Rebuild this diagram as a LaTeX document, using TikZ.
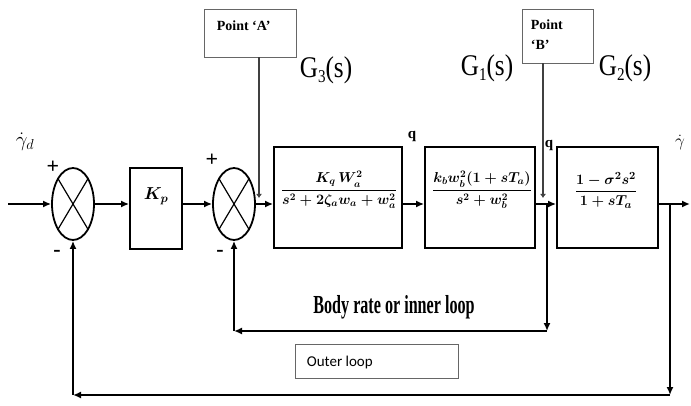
\documentclass[tikz,border=0pt]{standalone}
\usepackage{fontspec}
\setmainfont{Liberation Serif}
\newfontfamily\carl{Carlito}
\usepackage{graphicx}
\usetikzlibrary{shapes.geometric,arrows.meta}
\newcommand\Glabel[1]{\scalebox{0.84}[1]{\fontsize{30}{30}\selectfont G\raisebox{-5pt}{\fontsize{18}{18}\selectfont #1}(s)}}
\begin{document}
\begin{tikzpicture}[x=1pt,y=-1pt, line width=1.7pt,
  arr/.style={-{Latex[length=8pt,width=7pt]}},
  tick/.style={-{Latex[length=4pt,width=6pt]}},
  blk/.style={draw, rectangle, line width=1.8pt, inner sep=0pt},
  sumell/.style={draw, ellipse, line width=1.8pt, minimum width=42pt, minimum height=72pt, inner sep=0pt},
  ptbox/.style={draw=black!60, line width=0.9pt, rectangle, inner sep=0pt},
  ptline/.style={draw=black!75, line width=1.2pt},
  ptext/.style={font=\fontsize{14}{16}\selectfont\bfseries, inner sep=0pt},
  sgn/.style={font=\fontsize{22}{22}\selectfont\bfseries, inner sep=0pt},
  frac/.style={font=\boldmath, inner sep=0pt},
  qlab/.style={font=\fontsize{15}{15}\selectfont\bfseries, inner sep=0pt}]
\useasboundingbox[fill=white] (0,0) rectangle (691,406);

% summing junctions
\node[sumell] (s1) at (73,204) {};
\draw[line width=1.2pt] (s1.north east) -- (s1.south west) (s1.north west) -- (s1.south east);
\node[sumell] (s2) at (234,204) {};
\draw[line width=1.2pt] (s2.north east) -- (s2.south west) (s2.north west) -- (s2.south east);

% blocks
\node[blk, minimum width=52pt, minimum height=81pt] (kp) at (156,208.5) {};
\node[frac, font=\fontsize{17}{17}\selectfont\boldmath] (kpt) at (156,196) {$K_p$};
\node[blk, minimum width=128pt, minimum height=101pt] (g3) at (338,197.5) {};
\node[blk, minimum width=110pt, minimum height=101pt] (g1) at (480,197.5) {};
\node[blk, minimum width=101pt, minimum height=101pt] (g2) at (607.5,197.5) {};
\node[frac] (f3) at (339,190) {\fontsize{14}{16}\selectfont$\displaystyle\frac{K_q\,W_a^2}{s^2+2\zeta_a w_a+w_a^2}$};
\node[frac] (f1) at (482,190) {\fontsize{13.8}{16}\selectfont$\displaystyle\frac{k_b w_b^2(1+sT_a)}{s^2+w_b^2}$};
\node[frac] (f2) at (606,190) {\fontsize{15}{17}\selectfont$\displaystyle\frac{1-\sigma^2 s^2}{1+sT_a}$};

% transfer function labels
\node (l3) at (326,70) {\Glabel{3}};
\node (l1) at (487,68) {\Glabel{1}};
\node (l2) at (625,68) {\Glabel{2}};

% point boxes
\node[ptbox, minimum width=92pt, minimum height=48pt] (pa) at (250,33) {};
\node[ptext, anchor=base west] (pat) at (216,31) {Point ‘A’};
\node[ptbox, minimum width=71pt, minimum height=54pt] (pb) at (557.5,36) {};
\node[ptext, anchor=base west] (pbt1) at (530,30) {Point};
\node[ptext, anchor=base west] (pbt2) at (530,50) {‘B’};
\coordinate (jA) at (259,198);
\coordinate (jB) at (543,198);
\draw[ptline, tick] (pa.south -| jA) -- (jA);
\draw[ptline, tick] (pb.south -| jB) -- (jB);

% forward path
\coordinate (inp) at (8,204);
\coordinate (outp) at (690,204);
\draw[arr] (inp) -- (s1.west);
\draw[arr] (s1.east) -- (kp.west |- s1.east);
\draw[arr] (kp.east |- s1.east) -- (s2.west);
\draw[arr] (s2.east) -- (g3.west |- s2.east);
\draw[arr] (g3.east |- s2.east) -- (g1.west |- s2.east);
\draw[arr] (g1.east |- s2.east) -- (g2.west |- s2.east);
\draw[arr] (g2.east |- outp) -- (outp);

% inner loop
\coordinate (tI) at (547,204);
\coordinate (cI1) at (547,331);
\coordinate (cI2) at (234,331);
\draw[arr] (tI) -- (cI1);
\draw[arr] (cI1) -- (cI2);
\draw[arr] (cI2) -- (s2.south);

% outer loop
\coordinate (tO) at (670,204);
\coordinate (cO1) at (670,395);
\coordinate (cO2) at (73,395);
\draw[arr] (tO) -- (cO1);
\draw[arr] (cO1) -- (cO2);
\draw[arr] (cO2) -- (s1.south);

% loop texts
\node (body) at (394,307) {\scalebox{0.62}[1]{\fontsize{26}{26}\selectfont\bfseries Body rate or inner loop}};
\node[ptbox, minimum width=163pt, minimum height=34pt] (ob) at (376.5,361) {};
\node[anchor=base west, inner sep=0pt] (obt) at (306,366) {\carl\fontsize{15}{15}\selectfont Outer loop};

% signs and signal labels
\node[sgn] (p1) at (53,167) {+};
\node[sgn] (p2) at (212,160) {+};
\node[sgn] (m1) at (57,253) {-};
\node[sgn] (m2) at (220,253) {-};
\node[qlab] (q1) at (412,136) {q};
\node[qlab] (q2) at (549,145) {q};
\node (gd) at (25,142) {\fontsize{20}{20}\selectfont$\dot\gamma_d$};
\node (go) at (680,143) {\fontsize{17}{17}\selectfont$\dot\gamma$};
\end{tikzpicture}
\end{document}
